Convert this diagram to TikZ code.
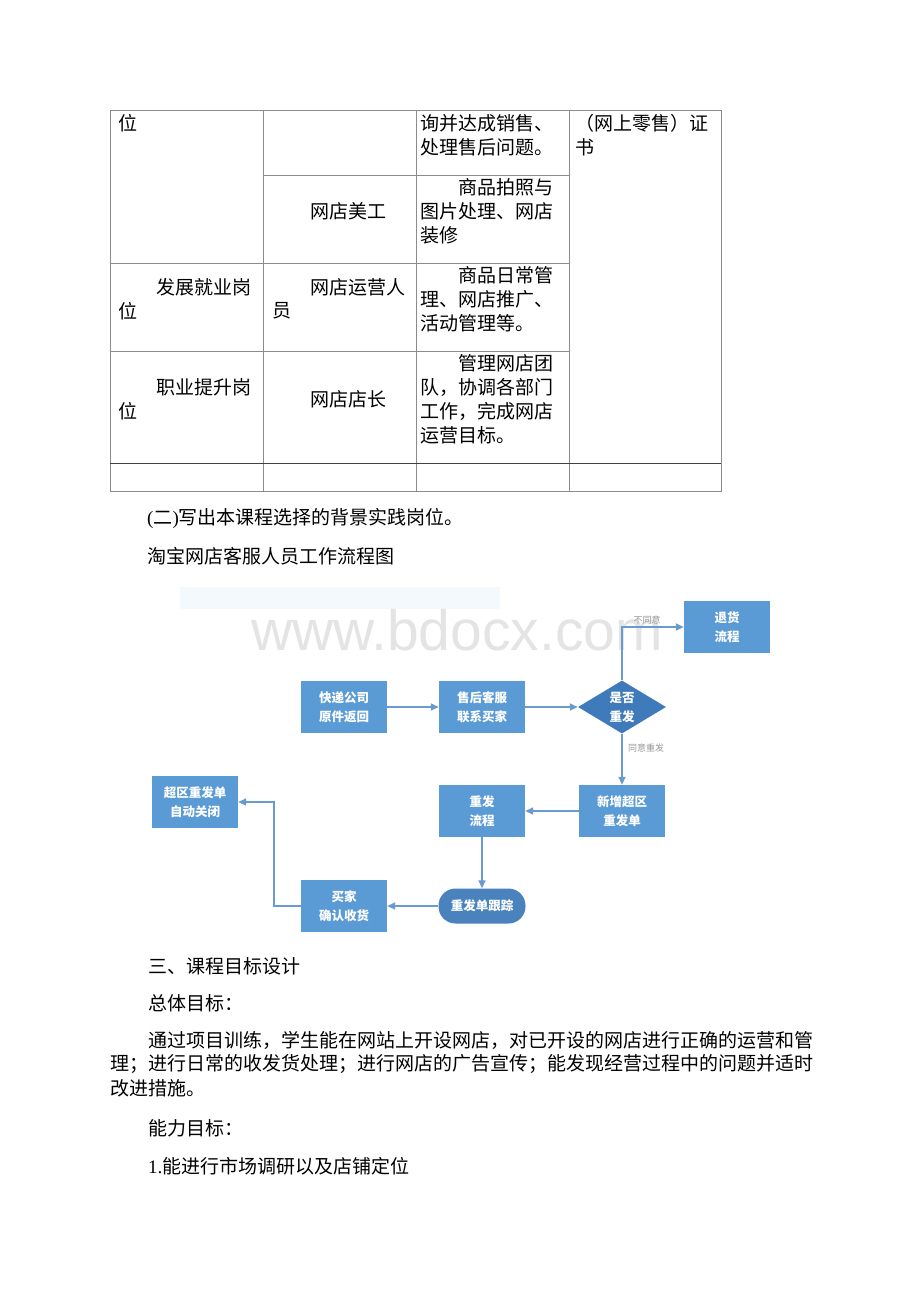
\documentclass[tikz,border=0pt]{standalone}
\usepackage{fontspec}
\setmainfont{Liberation Serif}
\newfontfamily\cjk{Noto Sans CJK SC}
\newfontfamily\wmfont{Liberation Sans}
\newfontfamily\latf{Liberation Serif}
\usetikzlibrary{arrows.meta,shapes.geometric}
\definecolor{boxblue}{HTML}{5B9BD5}
\definecolor{dkblue}{HTML}{3F7BBA}
\definecolor{stblue}{HTML}{4A82BE}
\definecolor{arrblue}{HTML}{6A9BCF}
\definecolor{tblgray}{HTML}{8C8C8C}
\definecolor{tbldark}{HTML}{404040}
\definecolor{lblgray}{HTML}{9A9A9A}
\definecolor{wmgray}{HTML}{E4E4E4}
\definecolor{bandc}{HTML}{F3F9FD}
\newcommand{\lt}[1]{{\latf #1}}
\begin{document}
\begin{tikzpicture}[x=1pt,y=-1pt,
  txt/.style={anchor=west,inner sep=0pt,font=\cjk\fontsize{19}{24}\selectfont},
  fbox/.style={rectangle,fill=boxblue,minimum width=86pt,minimum height=52pt,inner sep=0pt,text=white,align=center,font=\cjk\bfseries\fontsize{12.5}{19}\selectfont},
  dbox/.style={diamond,fill=dkblue,minimum width=88pt,minimum height=53pt,aspect=1.66,inner sep=0pt,text=white,align=center,font=\cjk\bfseries\fontsize{12.5}{19}\selectfont},
  sbox/.style={rectangle,rounded corners=17pt,fill=stblue,minimum width=87pt,minimum height=35pt,inner sep=0pt,text=white,align=center,font=\cjk\bfseries\fontsize{12.5}{19}\selectfont},
  conn/.style={draw=arrblue,line width=1.6pt,-{Triangle[length=8pt,width=7pt]}},
  lbl/.style={inner sep=0pt,text=lblgray,font=\cjk\fontsize{9}{10}\selectfont},
  tline/.style={draw=tblgray,line width=1pt},
]
\useasboundingbox (0,0) rectangle (920,1302);
\fill[white] (0,0) rectangle (920,1302);

% ---------- table ----------
\draw[tline] (110,110) rectangle (721,491);
\draw[tline] (263,110) -- (263,491);
\draw[tline] (416,110) -- (416,491);
\draw[tline] (569,110) -- (569,491);
\draw[tline] (263,175) -- (569,175);
\draw[tline] (110,263) -- (569,263);
\draw[tline] (110,351) -- (569,351);
\draw[draw=tbldark,line width=1pt] (110,463) -- (721,463);

\node[txt] (t1) at (118,123) {位};
\node[txt] (t2) at (156,287) {发展就业岗};
\node[txt] (t3) at (118,311) {位};
\node[txt] (t4) at (156,387) {职业提升岗};
\node[txt] (t5) at (118,411) {位};

\node[txt] (t6) at (310,211) {网店美工};
\node[txt] (t7) at (310,287) {网店运营人};
\node[txt] (t8) at (272,311) {员};
\node[txt] (t9) at (310,399) {网店店长};

\node[txt] (t10) at (420,123) {询并达成销售、};
\node[txt] (t11) at (420,147) {处理售后问题。};
\node[txt] (t12) at (458,187) {商品拍照与};
\node[txt] (t13) at (420,211) {图片处理、网店};
\node[txt] (t14) at (420,235) {装修};
\node[txt] (t15) at (458,275) {商品日常管};
\node[txt] (t16) at (420,299) {理、网店推广、};
\node[txt] (t17) at (420,323) {活动管理等。};
\node[txt] (t18) at (458,363) {管理网店团};
\node[txt] (t19) at (420,387) {队，协调各部门};
\node[txt] (t20) at (420,411) {工作，完成网店};
\node[txt] (t21) at (420,435) {运营目标。};

\node[txt] (t22) at (575,123) {（网上零售）证};
\node[txt] (t23) at (575,147) {书};

% ---------- headings ----------
\node[txt] (h1) at (147,518) {\lt{(}二\lt{)}写出本课程选择的背景实践岗位。};
\node[txt] (h2) at (147,556) {淘宝网店客服人员工作流程图};

% ---------- flowchart ----------
\fill[bandc] (180,587) rectangle (500,609);
\node[inner sep=0pt,anchor=base,text=wmgray,font=\wmfont\fontsize{57}{60}\selectfont] (wm) at (457,650) {www.bdocx.com};

\node[fbox] (kd) at (344,707) {快递公司\\原件返回};
\node[fbox] (sh) at (482,707) {售后客服\\联系买家};
\node[dbox] (dm) at (622,707) {是否\\重发};
\node[fbox] (th) at (727,627) {退货\\流程};
\node[fbox] (xz) at (622,811) {新增超区\\重发单};
\node[fbox] (cf) at (482,811) {重发\\流程};
\node[sbox] (gz) at (482,906) {重发单跟踪};
\node[fbox] (mj) at (344,906) {买家\\确认收货};
\node[fbox] (zd) at (195,802) {超区重发单\\自动关闭};
\coordinate (bend) at (274,906);

\draw[conn] (kd.east) -- (sh.west);
\draw[conn] (sh.east) -- (dm.west);
\draw[conn] (dm.north) |- (th.west);
\draw[conn] (dm.south) -- (xz.north);
\draw[conn] (xz.west) -- (cf.east);
\draw[conn] (cf.south) -- (gz.north);
\draw[conn] (gz.west) -- (mj.east);
\draw[conn] (mj.west) -- (bend) |- (zd.east);

\node[lbl] (l1) at (647,620) {不同意};
\node[lbl,anchor=west] (l2) at (628,748) {同意重发};

% ---------- text ----------
\node[txt] (p1) at (148,966) {三、课程目标设计};
\node[txt] (p2) at (148,1003) {总体目标：};
\node[txt] (p3) at (148,1040) {通过项目训练，学生能在网站上开设网店，对已开设的网店进行正确的运营和管};
\node[txt] (p4) at (110,1064) {理；进行日常的收发货处理；进行网店的广告宣传；能发现经营过程中的问题并适时};
\node[txt] (p5) at (110,1088) {改进措施。};
\node[txt] (p6) at (148,1128) {能力目标：};
\node[txt] (p7) at (148,1166) {\lt{1.}能进行市场调研以及店铺定位};
\end{tikzpicture}
\end{document}
